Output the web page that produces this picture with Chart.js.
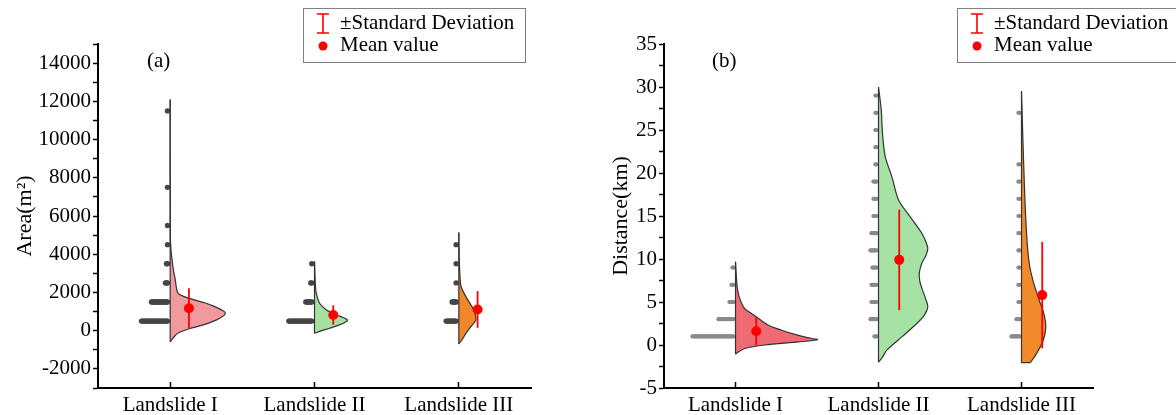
<!DOCTYPE html>
<html>
<head>
<meta charset="UTF-8">
<title>Landslide area and distance</title>
<script src="https://cdn.jsdelivr.net/npm/chart.js@4.4.1/dist/chart.umd.min.js"></script>
<style>
  body { margin: 0; background: #fff; }
  #wrap { position: relative; width: 1176px; height: 415px; }
  .box { position: absolute; top: 0; width: 588px; height: 415px; }
</style>
</head>
<body>
<div id="wrap">
  <div class="box" style="left:0"><canvas id="chartA" width="588" height="415"></canvas></div>
  <div class="box" style="left:588px"><canvas id="chartB" width="588" height="415"></canvas></div>
</div>
<script>
const categories = ['Landslide I', 'Landslide II', 'Landslide III'];
const legendLabels = ['±Standard Deviation', 'Mean value'];

// (a) area, half violin outline: value and width (in category units)
const areaKdeY1 = [-577, -450, -250, -100, 100, 300, 550, 800, 950, 1100, 1300, 1450, 1600, 1780, 1950, 2300, 2700, 3100, 3550, 4200, 5000, 12090];
const areaKdeW1 = [0, .014, .035, .062, .132, .229, .319, .374, .381, .353, .298, .243, .173, .097, .055, .042, .035, .024, .016, .006, .001, 0];
const areaKdeY2 = [-140, 0, 125, 300, 450, 560, 700, 820, 1085, 1435, 1960, 2400, 3620];
const areaKdeW2 = [0, .049, .104, .173, .215, .229, .194, .152, .083, .035, .012, .006, 0];
const areaKdeY3 = [-700, -400, -140, 210, 560, 1085, 1610, 2300, 3000, 4000, 5140];
const areaKdeW3 = [0, .028, .049, .083, .118, .104, .062, .016, .007, .002, 0];

// (a) dot rows: bin value and number of dots
const areaDotY1 = [500, 1500, 2500, 3500, 4500, 5500, 7500, 11500];
const areaDotN1 = [27, 17, 3, 2, 1, 1, 1, 1];
const areaDotY2 = [500, 1500, 2500, 3500];
const areaDotN2 = [24, 7, 2, 1];
const areaDotY3 = [500, 1500, 2500, 3500, 4500];
const areaDotN3 = [11, 5, 1, 1, 1];

const areaMean = [1174, 823, 1110];
const areaSD = [1048, 505, 960];

// (b) distance
const distKdeY1 = [-1.07, -0.92, -0.41, 0, 0.36, 0.62, 0.85, 1.14, 1.72, 2.3, 3.09, 3.67, 4.25, 5.6, 6.77, 8, 9.68];
const distKdeW1 = [0, .010, .065, .203, .441, .573, .503, .434, .322, .231, .161, .112, .063, .026, .012, .006, 0];
const distKdeY2 = [-2, -1.4, -0.6, 0.94, 2.5, 3.5, 4.44, 5.4, 6.38, 7.3, 8.33, 9.5, 10.4, 11.24, 12.1, 13, 14.9, 16.87, 19.6, 21.9, 24.6, 27.36, 30];
const distKdeW2 = [0, .028, .058, .163, .268, .322, .345, .329, .308, .290, .285, .303, .332, .345, .329, .303, .222, .140, .093, .047, .028, .019, 0];
const distKdeY3 = [-2.04, -1.0, 0.56, 2.1, 3.67, 5.2, 7.17, 9.1, 11.4, 15.3, 19.2, 22.7, 26, 29.5];
const distKdeW3 = [.063, .105, .152, .170, .156, .124, .086, .058, .042, .028, .019, .012, .006, 0];

const distDotY1 = [1, 3, 5, 7, 9];
const distDotN1 = [42, 16, 5, 3, 2];
const distDotY2 = [1, 3, 5, 7, 9, 11, 13, 15, 17, 19, 21, 23, 25, 27, 29];
const distDotN2 = [3, 7, 6, 6, 5, 7, 6, 4, 4, 4, 2, 2, 2, 2, 2];
const distDotY3 = [1, 3, 5, 7, 9, 11, 13, 15, 17, 19, 21, 27];
const distDotN3 = [9, 4, 2, 2, 2, 2, 2, 2, 2, 2, 2, 2];

const distMean = [1.6, 9.9, 5.8];
const distSD = [1.6, 5.85, 6.2];

Chart.defaults.font.family = '"Liberation Serif", "Times New Roman", serif';
Chart.defaults.color = '#000';

const panelDecor = {
  id: 'panelDecor',
  afterDraw(chart, args, o) {
    const ctx = chart.ctx;
    ctx.save();
    ctx.font = '21px "Liberation Serif"';
    ctx.fillStyle = '#000';
    ctx.textBaseline = 'alphabetic';
    ctx.fillText(o.label, o.labelX, 67);
    const bx = o.boxX, by = 8;
    ctx.strokeStyle = '#808080';
    ctx.lineWidth = 1;
    ctx.strokeRect(bx + 0.5, by + 0.5, o.boxW, 54);
    const ix = bx + 20;
    ctx.strokeStyle = '#ff0000';
    ctx.lineWidth = 1.6;
    ctx.beginPath();
    ctx.moveTo(ix, by + 6); ctx.lineTo(ix, by + 25);
    ctx.moveTo(ix - 6, by + 6); ctx.lineTo(ix + 6, by + 6);
    ctx.moveTo(ix - 6, by + 25); ctx.lineTo(ix + 6, by + 25);
    ctx.stroke();
    ctx.fillStyle = '#ff0000';
    ctx.beginPath(); ctx.arc(ix, by + 38, 4.5, 0, Math.PI * 2); ctx.fill();
    ctx.fillStyle = '#000';
    ctx.fillText(legendLabels[0], bx + 37, by + 21);
    ctx.fillText(legendLabels[1], bx + 37, by + 43);
    ctx.restore();
  }
};

function buildDatasets(p) {
  const ds = [];
  categories.forEach((c, i) => {
    const ky = p.kdeY[i], kw = p.kdeW[i], last = ky.length - 1;
    ds.push({
      type: 'line', indexAxis: 'y',
      data: ky.map((v, j) => ({x: i + kw[j], y: v})),
      fill: {value: i}, backgroundColor: p.colors[i],
      borderColor: '#333', borderWidth: 1.2, pointRadius: 0, tension: 0.3, order: 3
    });
    ds.push({
      type: 'scatter', showLine: true,
      data: [{x: i + kw[0], y: ky[0]}, {x: i, y: ky[0]}, {x: i, y: ky[last]}],
      borderColor: '#333', borderWidth: 1.2, pointRadius: 0, order: 2
    });
    const dots = [];
    p.dotY[i].forEach((v, j) => {
      for (let k = 0; k < p.dotN[i][j]; k++) dots.push({x: i - (p.dotR + k) * p.unit, y: v});
    });
    ds.push({type: 'scatter', data: dots, pointRadius: p.dotR, backgroundColor: p.dotColor, borderWidth: 0, order: 4});
    const mx = i + p.meanOffset;
    ds.push({
      type: 'scatter', showLine: true,
      data: [{x: mx, y: p.mean[i] - p.sd[i]}, {x: mx, y: p.mean[i] + p.sd[i]}],
      borderColor: '#ff0000', borderWidth: 1.8, pointRadius: 0, order: 1
    });
    ds.push({type: 'scatter', data: [{x: mx, y: p.mean[i]}], pointRadius: 5, backgroundColor: '#ff0000', borderWidth: 0, order: 0});
  });
  return ds;
}

function makeChart(id, p) {
  return new Chart(id, {
    type: 'scatter',
    data: {datasets: buildDatasets(p)},
    plugins: [panelDecor],
    options: {
      responsive: false,
      animation: false,
      events: [],
      layout: {padding: {top: 44, right: p.padRight, left: 0, bottom: 0}},
      plugins: {
        legend: {display: false},
        tooltip: {enabled: false},
        panelDecor: {label: p.label, labelX: p.labelX, boxX: p.boxX, boxW: p.boxW}
      },
      scales: {
        x: {
          type: 'linear', min: -0.5, max: 2.5,
          afterBuildTicks: s => { s.ticks = categories.map((c, i) => ({value: i})); },
          afterFit: s => { s.height = 27; },
          grid: {drawOnChartArea: false, tickLength: -6, tickColor: '#000', tickWidth: 1.5},
          border: {color: '#000', width: 2},
          ticks: {callback: v => categories[v], padding: 11, autoSkip: false, maxRotation: 0, font: {size: 21}}
        },
        y: {
          type: 'linear', min: p.yMin, max: p.yMax,
          afterBuildTicks: s => {
            s.ticks = [];
            for (let v = p.yMin; v <= p.yMax + 1e-9; v += p.minorStep) s.ticks.push({value: v});
          },
          afterFit: s => { s.width = p.axisWidth; },
          grid: {drawOnChartArea: false, tickLength: 5, tickColor: '#000', tickWidth: 1.5},
          border: {color: '#000', width: 2},
          ticks: {
            callback: v => (Math.abs(v % p.labelStep) < 1e-9 && v < p.yMax ? String(v) : ''),
            padding: 2, autoSkip: false, font: {size: 21}
          },
          title: {display: true, text: p.title, font: {size: 22}, padding: {top: p.titlePad, bottom: 0}}
        }
      }
    }
  });
}

makeChart('chartA', {
  kdeY: [areaKdeY1, areaKdeY2, areaKdeY3], kdeW: [areaKdeW1, areaKdeW2, areaKdeW3],
  dotY: [areaDotY1, areaDotY2, areaDotY3], dotN: [areaDotN1, areaDotN2, areaDotN3],
  mean: areaMean, sd: areaSD,
  colors: ['#f19a9e', '#a6e1a1', '#f0882a'], dotColor: '#454545', dotR: 2.7, unit: 3 / 433,
  meanOffset: 0.13, yMin: -3000, yMax: 15000, minorStep: 1000, labelStep: 2000,
  axisWidth: 98, padRight: 57, title: 'Area(m²)', titlePad: 12,
  label: '(a)', labelX: 147, boxX: 303, boxW: 222
});

makeChart('chartB', {
  kdeY: [distKdeY1, distKdeY2, distKdeY3], kdeW: [distKdeW1, distKdeW2, distKdeW3],
  dotY: [distDotY1, distDotY2, distDotY3], dotN: [distDotN1, distDotN2, distDotN3],
  mean: distMean, sd: distSD,
  colors: ['#ef6b73', '#a6e2a3', '#f08a2b'], dotColor: '#8a8a8a', dotR: 2.1, unit: 3 / 429,
  meanOffset: 0.145, yMin: -5, yMax: 35.0001, minorStep: 2.5, labelStep: 5,
  axisWidth: 76, padRight: 83, title: 'Distance(km)', titlePad: 20,
  label: '(b)', labelX: 124, boxX: 369, boxW: 240
});
</script>
</body>
</html>
